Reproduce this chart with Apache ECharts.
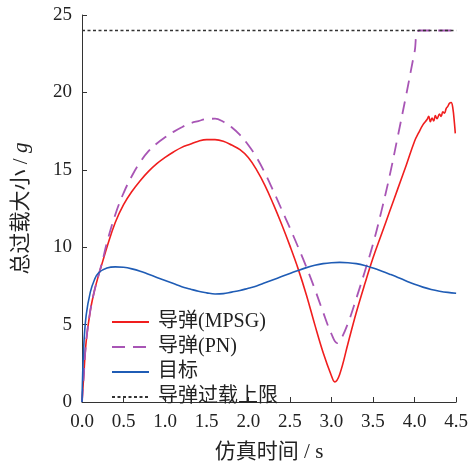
<!DOCTYPE html>
<html>
<head>
<meta charset="utf-8">
<script src="https://cdn.jsdelivr.net/npm/echarts@6/dist/echarts.min.js"></script>
<style>html,body{margin:0;padding:0;background:#fff}#c{width:471px;height:468px}</style>
</head>
<body>
<div id="c"></div>
<script>
// ---- data ----
const redT = [0,0.02,0.05,0.1,0.15,0.2,0.25,0.3,0.4,0.5,0.6,0.7,0.8,0.9,1.0,1.1,1.2,1.3,1.4,1.5,1.6,1.7,1.8,1.9,2.0,2.1,2.2,2.3,2.4,2.5,2.6,2.7,2.8,2.9,3.0,3.04,3.1,3.2,3.3,3.4,3.5,3.6,3.7,3.8,3.9,4.0,4.05,4.1,4.15,4.17,4.19,4.21,4.23,4.25,4.27,4.3,4.32,4.34,4.36,4.38,4.4,4.42,4.44,4.46,4.48,4.49];
const redV = [0,1.6,3.9,5.9,7.2,8.2,9.1,10.0,11.6,12.75,13.6,14.3,14.9,15.4,15.8,16.15,16.45,16.65,16.85,16.95,16.95,16.85,16.6,16.3,15.8,15.0,14.0,12.8,11.5,10.1,8.6,6.9,5.0,3.2,1.7,1.3,1.8,3.8,5.8,7.6,9.3,10.8,12.3,13.8,15.3,16.85,17.4,17.9,18.25,18.45,18.1,18.35,18.15,18.5,18.3,18.6,18.45,18.75,18.65,18.95,19.1,19.3,19.35,19.0,18.0,17.35];
const pnT = [0,0.02,0.05,0.1,0.15,0.2,0.25,0.3,0.4,0.5,0.6,0.7,0.8,0.9,1.0,1.1,1.2,1.3,1.4,1.5,1.6,1.7,1.8,1.9,2.0,2.1,2.2,2.3,2.4,2.5,2.6,2.7,2.8,2.9,3.0,3.07,3.1,3.2,3.3,3.4,3.5,3.6,3.7,3.8,3.9,4.0,4.06,4.5];
const pnV = [0,1.6,3.9,5.9,7.2,8.2,9.2,10.3,12.1,13.5,14.6,15.5,16.2,16.7,17.1,17.45,17.75,18.0,18.15,18.28,18.3,18.1,17.75,17.25,16.6,15.8,14.8,13.65,12.45,11.25,10.0,8.7,7.3,5.8,4.4,3.8,3.9,5.1,6.7,8.4,10.2,12.3,14.6,17.2,19.85,22.6,24.0,24.0];
const tgtT = [0,0.02,0.05,0.1,0.15,0.2,0.3,0.4,0.5,0.6,0.7,0.8,0.9,1.0,1.1,1.2,1.3,1.4,1.5,1.6,1.7,1.8,1.9,2.0,2.1,2.2,2.3,2.4,2.5,2.6,2.7,2.8,2.9,3.0,3.1,3.2,3.3,3.4,3.5,3.6,3.7,3.8,3.9,4.0,4.1,4.2,4.3,4.4,4.5];
const tgtV = [0,3.5,5.6,7.1,7.9,8.35,8.65,8.73,8.7,8.6,8.45,8.25,8.05,7.85,7.65,7.45,7.3,7.15,7.05,6.98,7.0,7.1,7.2,7.35,7.5,7.7,7.9,8.1,8.3,8.5,8.68,8.83,8.94,9.0,9.02,9.0,8.94,8.82,8.65,8.46,8.26,8.05,7.82,7.6,7.42,7.27,7.16,7.08,7.03];
const limT = [0,4.5];
const limV = [24,24];
const names = ['导弹(MPSG)','导弹(PN)','目标','导弹过载上限'];

const zip = (t,v) => t.map((x,i)=>[x,v[i]]);
const FONT = "'Liberation Serif','Noto Sans CJK SC',serif";
const chart = echarts.init(document.getElementById('c'));
chart.setOption({
  animation:false,
  backgroundColor:'#fff',
  textStyle:{fontFamily:FONT},
  grid:{left:82,right:11,top:15,bottom:55,containLabel:false},
  legend:{
    orient:'vertical',left:111,top:312,itemWidth:37,itemHeight:14,itemGap:5,
    data:names,
    itemStyle:{opacity:0},
    textStyle:{fontFamily:FONT,fontSize:20,color:'#222',padding:[0,0,0,4]},
    padding:0
  },
  xAxis:{
    type:'value',min:0,max:4.5,interval:0.5,
    name:'仿真时间 / s',nameLocation:'middle',nameGap:40,
    nameTextStyle:{fontFamily:FONT,fontSize:21,color:'#222'},
    axisLine:{lineStyle:{color:'#333',width:1}},
    axisTick:{inside:true,length:5,lineStyle:{color:'#333'}},
    axisLabel:{margin:11,fontSize:19,color:'#222',fontFamily:FONT,formatter:v=>v.toFixed(1)},
    splitLine:{show:false}
  },
  yAxis:{
    type:'value',min:0,max:25,interval:5,
    name:'总过载大小 / {i|g}',nameLocation:'middle',nameGap:50,
    nameTextStyle:{fontFamily:FONT,fontSize:21,color:'#222',
      rich:{i:{fontStyle:'italic',fontFamily:FONT,fontSize:21,color:'#222'}}},
    axisLine:{show:true,lineStyle:{color:'#333',width:1}},
    axisTick:{show:true,inside:true,length:5,lineStyle:{color:'#333'}},
    axisLabel:{margin:10,fontSize:19,color:'#222',fontFamily:FONT},
    splitLine:{show:false}
  },
  series:[
    {name:names[0],type:'line',symbol:'none',smooth:0.4,data:zip(redT,redV),
      lineStyle:{color:'#f01e1e',width:1.6},itemStyle:{color:'#f01e1e'}},
    {name:names[1],type:'line',symbol:'none',smooth:0.4,data:zip(pnT,pnV),
      lineStyle:{color:'#a855b5',width:1.8,type:[13,8]},itemStyle:{color:'#a855b5'}},
    {name:names[2],type:'line',symbol:'none',smooth:0.4,data:zip(tgtT,tgtV),
      lineStyle:{color:'#1f5cb5',width:1.6},itemStyle:{color:'#1f5cb5'}},
    {name:names[3],type:'line',symbol:'none',data:zip(limT,limV),
      lineStyle:{color:'#333',width:1.4,type:[3,2.5]},itemStyle:{color:'#333'}}
  ]
});
</script>
</body>
</html>
